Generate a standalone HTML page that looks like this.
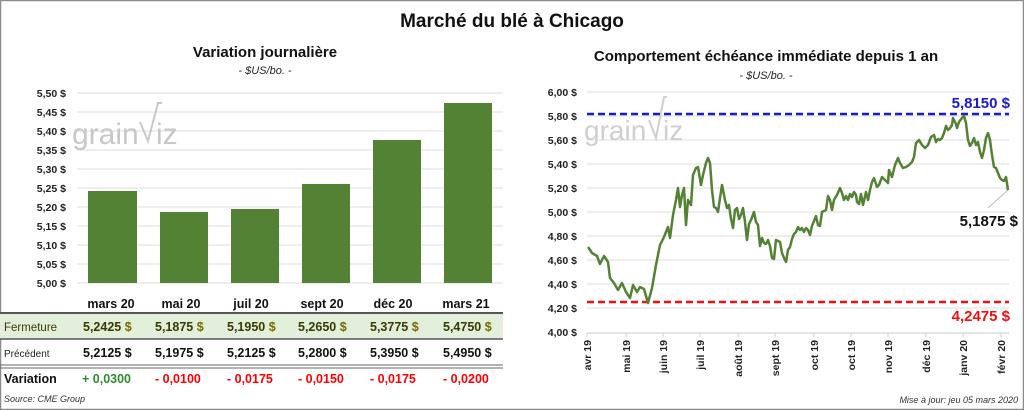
<!DOCTYPE html>
<html><head><meta charset="utf-8"><style>
html,body{margin:0;padding:0;background:#fff;}
svg{display:block;font-family:"Liberation Sans",Calibri,sans-serif;}
</style></head><body>
<svg width="1024" height="410" viewBox="0 0 1024 410" xmlns="http://www.w3.org/2000/svg">
<rect x="0.5" y="0.5" width="1023" height="409" fill="#fff" stroke="#8c8c8c" stroke-width="1.5"/>
<text x="512" y="27" text-anchor="middle" font-size="19" font-weight="bold" fill="#111">Marché du blé à Chicago</text>
<text x="265" y="57" text-anchor="middle" font-size="15" font-weight="bold" fill="#111">Variation  journalière</text>
<text x="265" y="74" text-anchor="middle" font-size="11" font-style="italic" fill="#222">- $US/bo. -</text>
<text x="766" y="61" text-anchor="middle" font-size="15" font-weight="bold" fill="#111">Comportement  échéance immédiate depuis 1 an</text>
<text x="766" y="79" text-anchor="middle" font-size="11" font-style="italic" fill="#222">- $US/bo. -</text>

<!-- left grid -->
<g stroke="#dcdcdc" stroke-width="1">
<line x1="77" x2="503" y1="93" y2="93"/><line x1="77" x2="503" y1="112" y2="112"/><line x1="77" x2="503" y1="131" y2="131"/><line x1="77" x2="503" y1="150" y2="150"/><line x1="77" x2="503" y1="169" y2="169"/><line x1="77" x2="503" y1="188" y2="188"/><line x1="77" x2="503" y1="207" y2="207"/><line x1="77" x2="503" y1="226" y2="226"/><line x1="77" x2="503" y1="245" y2="245"/><line x1="77" x2="503" y1="264" y2="264"/><line x1="77" x2="503" y1="283" y2="283"/>
</g>
<g font-size="10.5" font-weight="bold" fill="#222" text-anchor="end">
<text x="66" y="97">5,50 $</text><text x="66" y="116">5,45 $</text><text x="66" y="135">5,40 $</text><text x="66" y="154">5,35 $</text><text x="66" y="173">5,30 $</text><text x="66" y="192">5,25 $</text><text x="66" y="211">5,20 $</text><text x="66" y="230">5,15 $</text><text x="66" y="249">5,10 $</text><text x="66" y="268">5,05 $</text><text x="66" y="287">5,00 $</text>
</g>
<text x="72" y="144" font-size="30" fill="#c8c8c8">grain</text>
<polyline points="140,122 148,141 158,103 162,103" fill="none" stroke="#c8c8c8" stroke-width="2"/>
<text x="156" y="144" font-size="30" fill="#c8c8c8">iz</text>
<g fill="#548235">
<rect x="88" y="191" width="49" height="92"/><rect x="160" y="212" width="48" height="71"/><rect x="231" y="209" width="48" height="74"/><rect x="302" y="184" width="48" height="99"/><rect x="373" y="140" width="48" height="143"/><rect x="444" y="103" width="48" height="180"/>
</g>
<!-- table -->
<g font-size="12.5" font-weight="bold" fill="#111" text-anchor="middle">
<text x="111" y="308">mars 20</text><text x="181" y="308">mai 20</text><text x="251" y="308">juil 20</text><text x="322" y="308">sept 20</text><text x="393" y="308">déc 20</text><text x="466" y="308">mars 21</text>
</g>
<rect x="0" y="313" width="503" height="26" fill="#e2efda"/>
<line x1="0" x2="503" y1="313" y2="313" stroke="#555" stroke-width="2"/>
<line x1="0" x2="503" y1="339" y2="339" stroke="#555" stroke-width="1.5"/>
<line x1="0" x2="503" y1="365" y2="365" stroke="#666" stroke-width="1"/>
<line x1="0" x2="503" y1="368" y2="368" stroke="#666" stroke-width="1"/>
<text x="4" y="331" font-size="11.5" fill="#3a3a00">Fermeture</text>
<text x="4" y="357" font-size="10" fill="#222">Précédent</text>
<text x="4" y="383" font-size="12.5" font-weight="bold" fill="#111">Variation</text>
<g font-size="12.5" font-weight="bold" fill="#3a3a00">
<text x="83" y="331">5,2425   <tspan fill="#7a6a00">$</tspan></text><text x="155" y="331">5,1875   <tspan fill="#7a6a00">$</tspan></text><text x="227" y="331">5,1950   <tspan fill="#7a6a00">$</tspan></text><text x="298" y="331">5,2650   <tspan fill="#7a6a00">$</tspan></text><text x="370" y="331">5,3775   <tspan fill="#7a6a00">$</tspan></text><text x="443" y="331">5,4750   <tspan fill="#7a6a00">$</tspan></text>
</g>
<g font-size="12.5" font-weight="bold" fill="#111" xml:space="preserve">
<text x="83" y="357">5,2125   $</text><text x="155" y="357">5,1975   $</text><text x="227" y="357">5,2125   $</text><text x="298" y="357">5,2800   $</text><text x="370" y="357">5,3950   $</text><text x="443" y="357">5,4950   $</text>
</g>
<g font-size="12.5" font-weight="bold">
<text x="82" y="383" fill="#2e8b2e">+ 0,0300</text><text x="155" y="383" fill="#f00">- 0,0100</text><text x="227" y="383" fill="#f00">- 0,0175</text><text x="298" y="383" fill="#f00">- 0,0150</text><text x="370" y="383" fill="#f00">- 0,0175</text><text x="443" y="383" fill="#f00">- 0,0200</text>
</g>
<text x="4" y="402" font-size="9" font-style="italic" fill="#333">Source: CME Group</text>

<!-- right chart -->
<g stroke="#dcdcdc" stroke-width="1">
<line x1="587" x2="1009" y1="92" y2="92"/><line x1="587" x2="1009" y1="116" y2="116"/><line x1="587" x2="1009" y1="140" y2="140"/><line x1="587" x2="1009" y1="164" y2="164"/><line x1="587" x2="1009" y1="188" y2="188"/><line x1="587" x2="1009" y1="212" y2="212"/><line x1="587" x2="1009" y1="236" y2="236"/><line x1="587" x2="1009" y1="260" y2="260"/><line x1="587" x2="1009" y1="284" y2="284"/><line x1="587" x2="1009" y1="308" y2="308"/>
</g>
<line x1="587" x2="1009" y1="333" y2="333" stroke="#ccc"/>
<g stroke="#ccc"><line x1="587" x2="587" y1="333" y2="337"/><line x1="626" x2="626" y1="333" y2="337"/><line x1="663" x2="663" y1="333" y2="337"/><line x1="700" x2="700" y1="333" y2="337"/><line x1="738" x2="738" y1="333" y2="337"/><line x1="775" x2="775" y1="333" y2="337"/><line x1="814" x2="814" y1="333" y2="337"/><line x1="851" x2="851" y1="333" y2="337"/><line x1="888" x2="888" y1="333" y2="337"/><line x1="926" x2="926" y1="333" y2="337"/><line x1="963" x2="963" y1="333" y2="337"/><line x1="1001" x2="1001" y1="333" y2="337"/></g>
<g font-size="10.5" font-weight="bold" fill="#222" text-anchor="end">
<text x="577" y="96">6,00 $</text><text x="577" y="120">5,80 $</text><text x="577" y="144">5,60 $</text><text x="577" y="168">5,40 $</text><text x="577" y="192">5,20 $</text><text x="577" y="216">5,00 $</text><text x="577" y="240">4,80 $</text><text x="577" y="264">4,60 $</text><text x="577" y="288">4,40 $</text><text x="577" y="312">4,20 $</text><text x="577" y="336">4,00 $</text>
</g>
<g font-size="10.5" font-weight="bold" fill="#222" text-anchor="end">
<text transform="translate(591,340) rotate(-90)">avr 19</text><text transform="translate(630,340) rotate(-90)">mai 19</text><text transform="translate(667,340) rotate(-90)">juin 19</text><text transform="translate(704,340) rotate(-90)">juil 19</text><text transform="translate(742,340) rotate(-90)">août 19</text><text transform="translate(779,340) rotate(-90)">sept 19</text><text transform="translate(818,340) rotate(-90)">oct 19</text><text transform="translate(855,340) rotate(-90)">oct 19</text><text transform="translate(892,340) rotate(-90)">nov 19</text><text transform="translate(930,340) rotate(-90)">déc 19</text><text transform="translate(967,340) rotate(-90)">janv 20</text><text transform="translate(1005,340) rotate(-90)">févr 20</text>
</g>
<text x="584" y="140" font-size="28" fill="#cfcfcf">grain</text>
<polyline points="649,120 656,138 664,97 667,97" fill="none" stroke="#cfcfcf" stroke-width="2"/>
<text x="663" y="140" font-size="28" fill="#cfcfcf">iz</text>
<line x1="587" x2="1009" y1="114" y2="114" stroke="#1a1ad0" stroke-width="2.5" stroke-dasharray="7,4"/>
<line x1="587" x2="1009" y1="302" y2="302" stroke="#f01010" stroke-width="2.5" stroke-dasharray="7,4"/>
<text x="1010" y="108" text-anchor="end" font-size="15" font-weight="bold" fill="#1a1ad0">5,8150  $</text>
<text x="1010" y="321" text-anchor="end" font-size="15" font-weight="bold" fill="#f01010">4,2475  $</text>
<line x1="1008" y1="190" x2="988" y2="208" stroke="#bbb"/>
<text x="1018" y="226" text-anchor="end" font-size="15" font-weight="bold" fill="#111">5,1875 $</text>
<polyline fill="none" stroke="#548235" stroke-width="2.5" stroke-linejoin="round" points="588,247 592,253 597,256 600,264 604,256 608,262 610,278 614,283 618,290 622,283 626,292 630,298 633,285 637,292 640,287 644,289 648,303 652,288 656,265 660,245 664,237 668,227 670,238 673,215 676,200 678,188 680,207 682,195 684,188 686,225 688,200 691,205 693,175 696,168 698,167 701,185 703,175 706,163 708,158 710,163 712,190 714,207 716,208 718,212 720,198 722,185 725,200 727,208 729,205 731,219 733,228 735,210 737,208 739,219 741,215 743,208 745,222 747,240 749,224 751,220 754,212 756,222 758,225 760,246 762,238 764,243 766,244 768,240 770,246 772,258 774,259 776,240 778,241 780,242 782,253 784,258 786,262 788,250 790,247 792,239 794,234 796,232 798,227 800,230 802,228 804,232 806,228 808,230 810,235 812,226 814,221 816,216 818,225 820,226 822,212 824,211 826,210 828,196 830,200 832,210 834,200 835,198 837,195 840,188 842,193 844,200 846,196 848,200 850,194 852,197 854,192 856,195 857,202 859,204 861,194 863,205 866,192 868,200 870,190 872,182 874,178 877,187 879,185 882,177 885,180 888,183 889,170 892,177 895,165 898,158 900,163 903,168 906,167 909,165 912,162 914,157 916,143 919,140 922,145 925,148 928,145 931,137 934,135 936,142 938,139 940,140 942,138 944,133 946,126 948,130 950,128 952,125 953,118 956,124 957,128 959,122 962,118 964,116 966,123 968,140 970,146 972,143 974,138 976,145 978,142 980,152 982,158 984,150 986,138 988,133 990,140 992,155 994,167 996,168 998,173 1000,178 1002,180 1004,181 1006,177 1008,190"/>
<text x="1018" y="403" text-anchor="end" font-size="9" font-style="italic" fill="#333">Mise à jour: jeu 05 mars 2020</text>
</svg>
</body></html>
